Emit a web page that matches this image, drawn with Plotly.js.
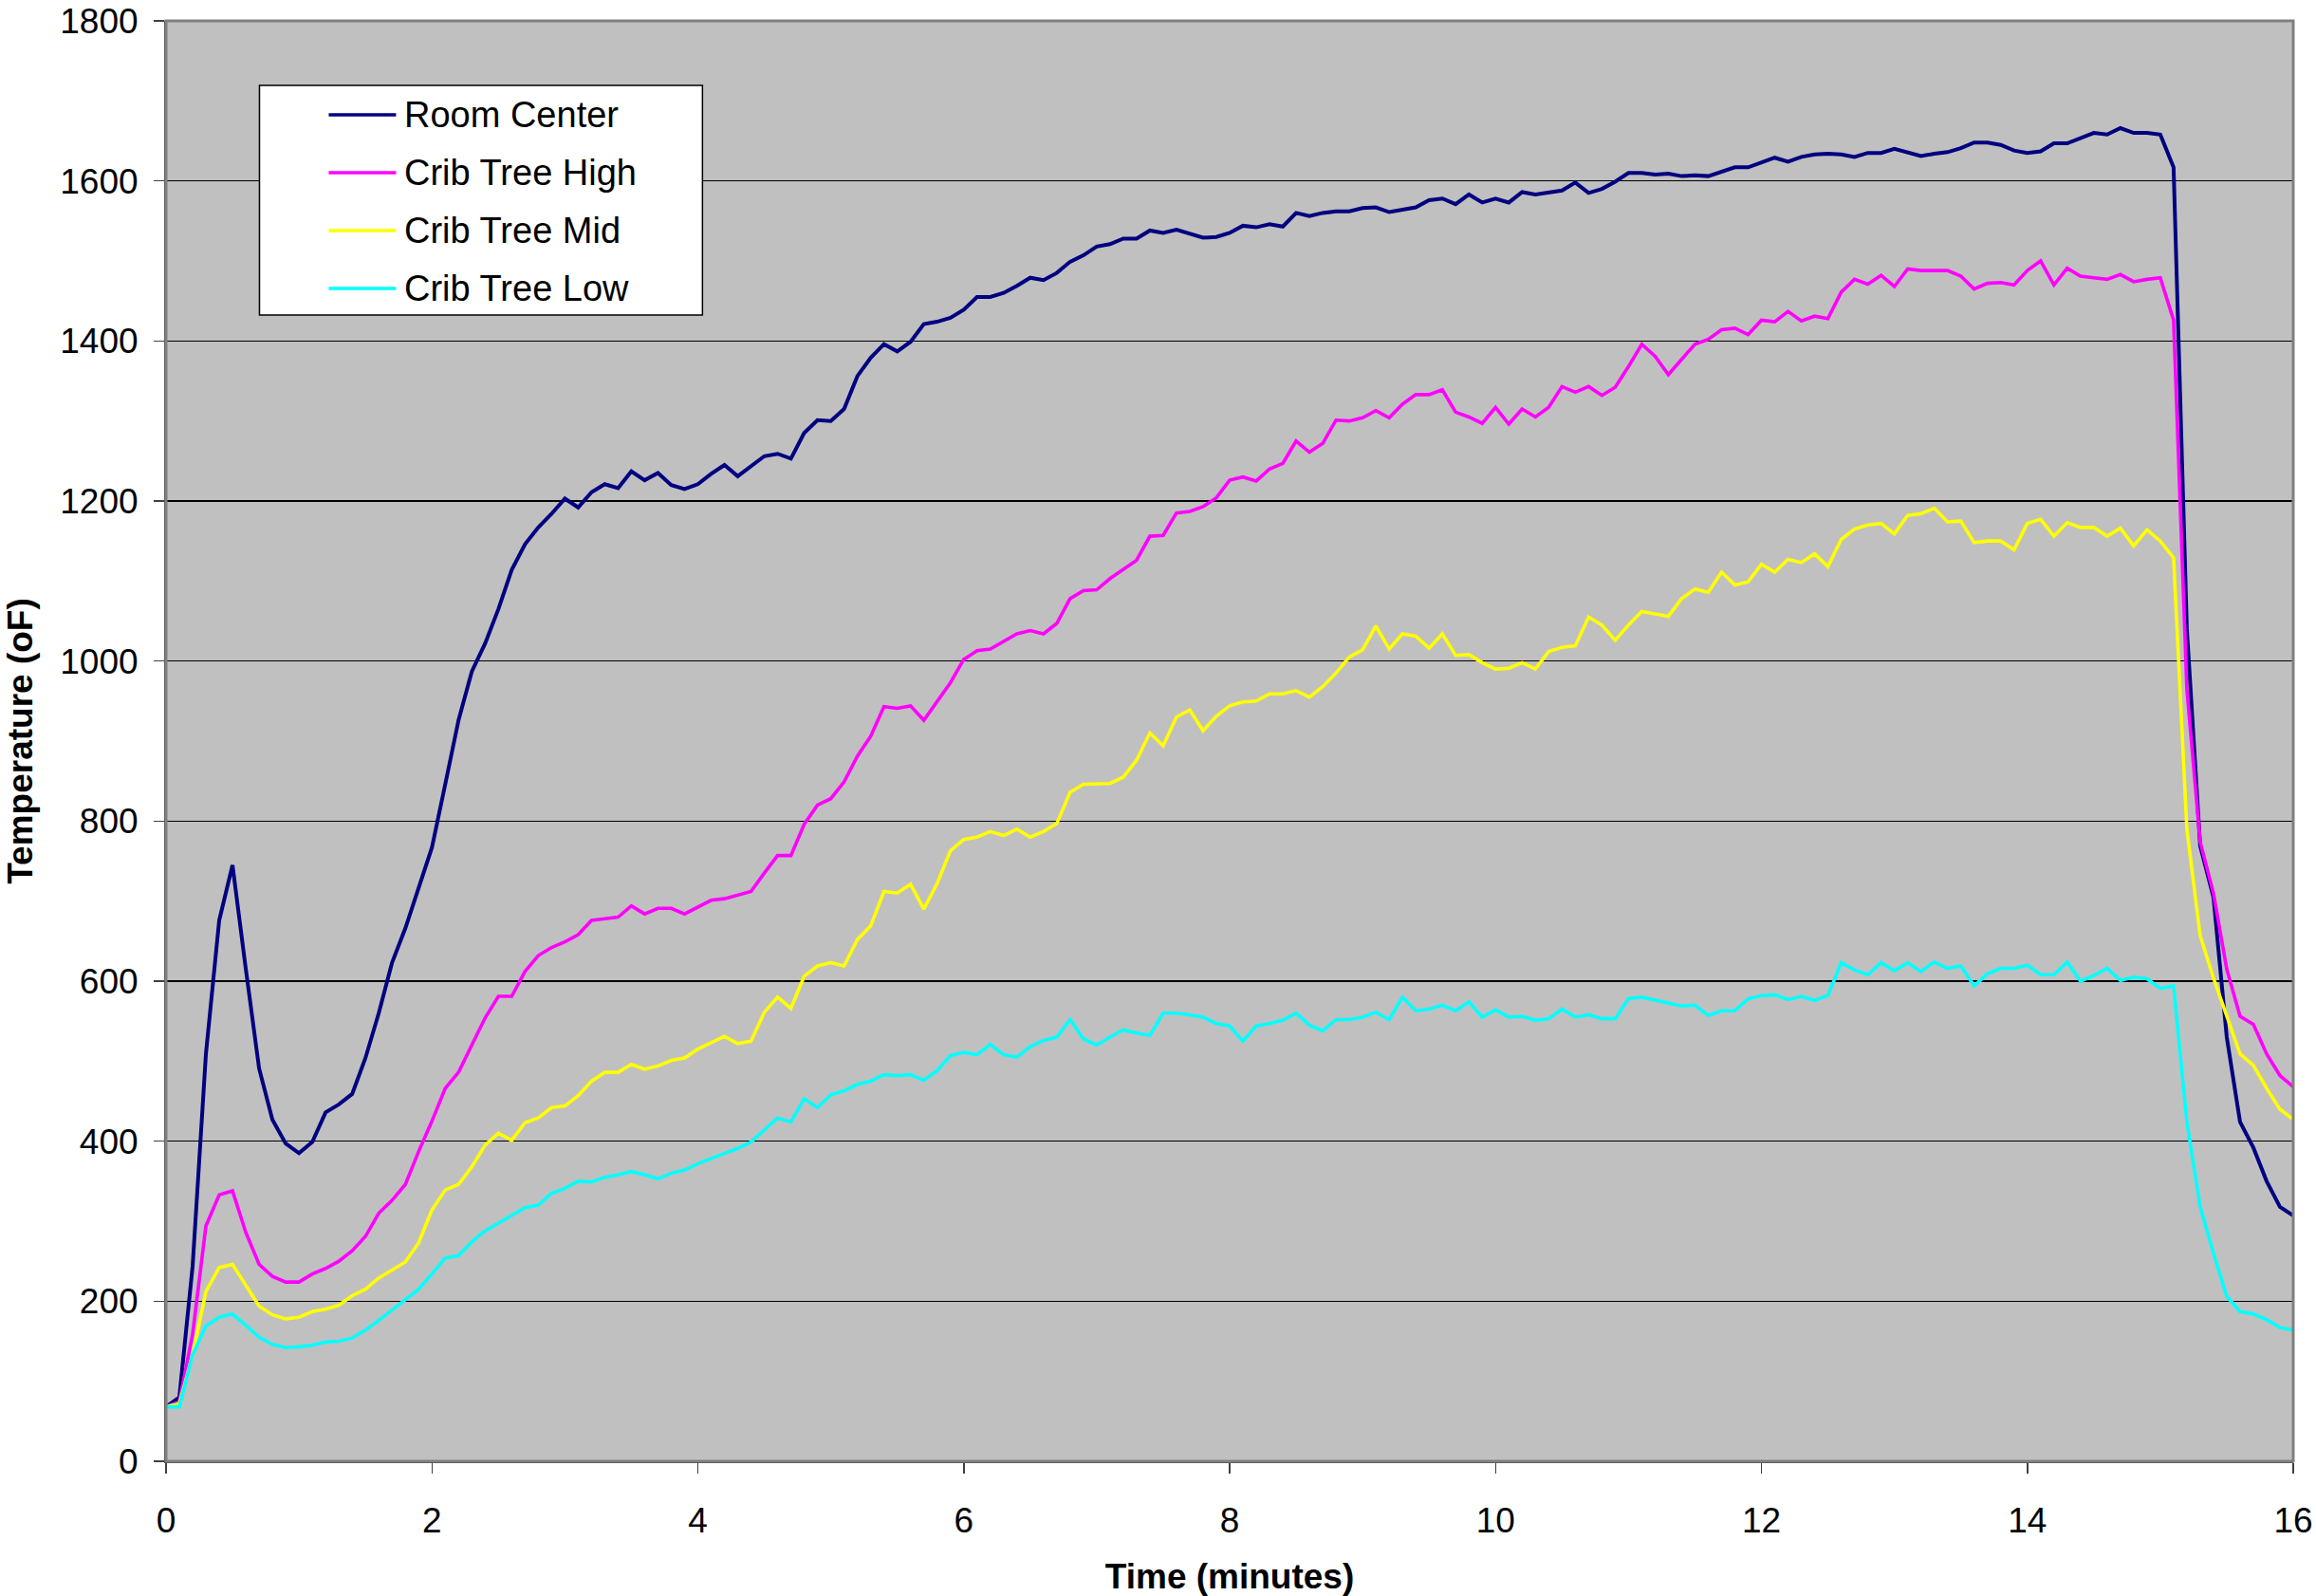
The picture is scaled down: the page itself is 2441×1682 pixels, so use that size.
<!DOCTYPE html>
<html>
<head>
<meta charset="utf-8">
<script src="https://cdn.plot.ly/plotly-3.0.1.min.js"></script>
<style>
  html, body { margin: 0; padding: 0; background: #ffffff; }
  #chart { width: 2441px; height: 1682px; }
</style>
</head>
<body>
<div id="chart"></div>
<script>
// Time in minutes (6-second samples)
var timeMinutes = [
  0.0,0.1,0.2,0.3,0.4,0.5,0.6,0.7,0.8,0.9,
  1.0,1.1,1.2,1.3,1.4,1.5,1.6,1.7,1.8,1.9,
  2.0,2.1,2.2,2.3,2.4,2.5,2.6,2.7,2.8,2.9,
  3.0,3.1,3.2,3.3,3.4,3.5,3.6,3.7,3.8,3.9,
  4.0,4.1,4.2,4.3,4.4,4.5,4.6,4.7,4.8,4.9,
  5.0,5.1,5.2,5.3,5.4,5.5,5.6,5.7,5.8,5.9,
  6.0,6.1,6.2,6.3,6.4,6.5,6.6,6.7,6.8,6.9,
  7.0,7.1,7.2,7.3,7.4,7.5,7.6,7.7,7.8,7.9,
  8.0,8.1,8.2,8.3,8.4,8.5,8.6,8.7,8.8,8.9,
  9.0,9.1,9.2,9.3,9.4,9.5,9.6,9.7,9.8,9.9,
  10.0,10.1,10.2,10.3,10.4,10.5,10.6,10.7,10.8,10.9,
  11.0,11.1,11.2,11.3,11.4,11.5,11.6,11.7,11.8,11.9,
  12.0,12.1,12.2,12.3,12.4,12.5,12.6,12.7,12.8,12.9,
  13.0,13.1,13.2,13.3,13.4,13.5,13.6,13.7,13.8,13.9,
  14.0,14.1,14.2,14.3,14.4,14.5,14.6,14.7,14.8,14.9,
  15.0,15.1,15.2,15.3,15.4,15.5,15.6,15.7,15.8,15.9,
  16.0
];

var roomCenter = [
  68,80,244,509,676,745,615,491,427,397,
  385,399,436,446,459,504,560,623,666,716,
  767,846,926,987,1022,1065,1114,1146,1167,1184,
  1203,1192,1211,1221,1216,1237,1226,1235,1220,1215,
  1221,1234,1245,1231,1243,1256,1259,1253,1285,1301,
  1300,1315,1356,1379,1396,1387,1399,1421,1424,1429,
  1439,1455,1455,1460,1469,1479,1476,1485,1499,1507,
  1518,1521,1528,1528,1538,1535,1539,1534,1529,1530,
  1535,1544,1542,1546,1543,1560,1556,1560,1562,1562,
  1566,1567,1561,1564,1567,1576,1578,1571,1583,1573,
  1578,1573,1586,1583,1585,1588,1598,1585,1590,1599,
  1610,1610,1608,1609,1606,1607,1606,1611,1617,1617,
  1623,1629,1624,1630,1633,1634,1633,1630,1635,1635,
  1640,1636,1631,1634,1636,1641,1648,1648,1645,1638,
  1635,1637,1647,1647,1654,1660,1658,1666,1660,1660,
  1658,1617,1040,769,705,530,424,392,350,318,
  307
];

var cribTreeHigh = [
  68,74,159,294,333,338,286,246,231,224,
  224,234,241,250,263,281,310,326,346,387,
  425,466,486,521,554,581,581,612,632,642,
  649,658,676,678,680,694,684,691,691,684,
  692,701,703,707,712,735,757,757,796,820,
  828,849,881,906,943,941,944,926,950,973,
  1002,1013,1015,1024,1034,1038,1034,1047,1078,1088,
  1089,1103,1115,1126,1156,1157,1185,1187,1193,1204,
  1226,1230,1225,1240,1247,1275,1261,1272,1301,1300,
  1304,1313,1304,1321,1333,1333,1339,1311,1305,1297,
  1317,1296,1315,1305,1317,1343,1336,1343,1332,1342,
  1368,1396,1381,1358,1377,1396,1402,1414,1416,1408,
  1426,1424,1437,1425,1431,1428,1461,1477,1471,1482,
  1468,1490,1488,1488,1488,1481,1465,1472,1473,1470,
  1488,1500,1470,1491,1481,1479,1477,1483,1474,1477,
  1479,1426,965,774,710,615,556,546,509,482,
  468
];

var cribTreeMid = [
  68,72,133,212,242,246,220,194,183,178,
  180,187,190,195,207,215,229,239,249,273,
  314,339,346,368,395,410,401,423,429,442,
  444,457,475,486,486,496,490,494,501,504,
  515,523,531,522,525,561,580,566,606,619,
  623,619,652,669,712,710,721,690,722,763,
  777,780,787,782,790,780,787,797,836,846,
  846,847,855,876,910,894,930,939,913,931,
  944,949,950,959,959,963,955,968,985,1005,
  1014,1044,1015,1034,1031,1016,1034,1007,1008,998,
  990,991,998,990,1012,1017,1019,1055,1045,1026,
  1045,1062,1059,1056,1078,1090,1086,1111,1095,1099,
  1121,1111,1127,1123,1134,1118,1152,1165,1170,1172,
  1159,1182,1184,1191,1174,1175,1148,1150,1150,1139,
  1172,1177,1156,1173,1167,1167,1156,1166,1144,1164,
  1150,1129,790,657,604,556,509,495,466,440,
  427
];

var cribTreeLow = [
  68,68,133,169,180,184,170,155,146,142,
  143,145,149,150,154,164,176,189,202,215,
  234,254,257,274,288,298,308,317,320,335,
  341,350,349,355,358,362,358,353,360,364,
  372,378,384,391,399,414,429,424,453,442,
  458,463,471,475,483,482,483,476,488,507,
  511,508,521,508,505,518,526,530,552,528,
  520,530,539,535,532,560,560,558,555,547,
  544,525,544,547,551,560,545,538,552,552,
  555,561,552,580,563,565,570,563,574,555,
  564,555,556,551,553,565,555,558,553,553,
  578,580,576,572,569,570,557,563,563,578,
  582,583,577,581,576,582,623,614,608,623,
  613,623,612,624,616,619,594,609,616,616,
  620,608,608,624,600,607,616,601,605,603,
  591,594,424,318,260,206,187,184,177,167,
  164
];

var seriesNames = ["Room Center", "Crib Tree High", "Crib Tree Mid", "Crib Tree Low"];
var seriesColors = ["#000080", "#FF00FF", "#FFFF00", "#00FFFF"];
var seriesValues = [roomCenter, cribTreeHigh, cribTreeMid, cribTreeLow];

var xTickValues = [0, 2, 4, 6, 8, 10, 12, 14, 16];
var yTickValues = [0, 200, 400, 600, 800, 1000, 1200, 1400, 1600, 1800];

var FONT = "Liberation Sans, Arial, Helvetica, sans-serif";

var traces = seriesNames.map(function (name, i) {
  return {
    type: "scatter",
    mode: "lines",
    name: name,
    x: timeMinutes,
    y: seriesValues[i],
    line: { color: seriesColors[i], width: i === 0 ? 4 : 3.6 },
    showlegend: false,
    hoverinfo: "x+y+name"
  };
});

// Manual legend box (Excel-style)
var W = 2441, H = 1682;
var mL = 174.5, mR = 24, mT = 22, mB = 142;
var pw = W - mL - mR, ph = H - mT - mB;
function px(xpix) { return (xpix - mL) / pw; }
function py(ypix) { return (H - mB - ypix) / ph; }

var shapes = [
  // plot border (top/right in gray)
  { type: "rect", xref: "paper", yref: "paper", x0: 0, x1: 1, y0: 0, y1: 1,
    line: { color: "#808080", width: 3 }, layer: "above" },
  // legend box
  { type: "rect", xref: "paper", yref: "paper",
    x0: px(273), x1: px(740), y0: py(332), y1: py(90),
    fillcolor: "#FFFFFF", line: { color: "#000000", width: 1.5 }, layer: "above" }
];
var annotations = [];
var rowY = [121, 182, 243, 304];
seriesNames.forEach(function (name, i) {
  shapes.push({
    type: "line", xref: "paper", yref: "paper",
    x0: px(346), x1: px(417), y0: py(rowY[i]), y1: py(rowY[i]),
    line: { color: seriesColors[i], width: 3.6 }, layer: "above"
  });
  annotations.push({
    xref: "paper", yref: "paper", x: px(424), y: py(rowY[i]),
    xanchor: "left", yanchor: "middle", showarrow: false,
    text: name, font: { family: FONT, size: 38, color: "#000000" }
  });
});

var layout = {
  width: W,
  height: H,
  margin: { l: mL, r: mR, t: mT, b: mB, pad: 0 },
  paper_bgcolor: "#FFFFFF",
  plot_bgcolor: "#C0C0C0",
  font: { family: FONT, size: 37, color: "#000000" },
  showlegend: false,
  xaxis: {
    range: [0, 16],
    tickvals: xTickValues,
    ticktext: xTickValues.map(String),
    ticks: "outside",
    ticklen: 11,
    tickwidth: 1.5,
    tickcolor: "#404040",
    showline: true,
    linecolor: "#404040",
    linewidth: 2,
    showgrid: false,
    zeroline: false,
    ticklabelstandoff: 18,
    ticklabeloverflow: "allow",
    tickfont: { family: FONT, size: 37, color: "#000000" },
    title: { text: "<b>Time (minutes)</b>", font: { family: FONT, size: 37, color: "#000000" }, standoff: 30 }
  },
  yaxis: {
    range: [0, 1800],
    tickvals: yTickValues,
    ticktext: yTickValues.map(String),
    ticks: "outside",
    ticklen: 11,
    tickwidth: 1.5,
    tickcolor: "#404040",
    showline: true,
    linecolor: "#404040",
    linewidth: 2,
    showgrid: true,
    gridcolor: "#000000",
    gridwidth: 1.2,
    zeroline: false,
    ticklabelstandoff: 9,
    ticklabeloverflow: "allow",
    tickfont: { family: FONT, size: 37, color: "#000000" },
    title: { text: "<b>Temperature (oF)</b>", font: { family: FONT, size: 37, color: "#000000" }, standoff: 17 }
  },
  shapes: shapes,
  annotations: annotations
};

Plotly.newPlot("chart", traces, layout, { displayModeBar: false, staticPlot: true });
</script>
</body>
</html>
